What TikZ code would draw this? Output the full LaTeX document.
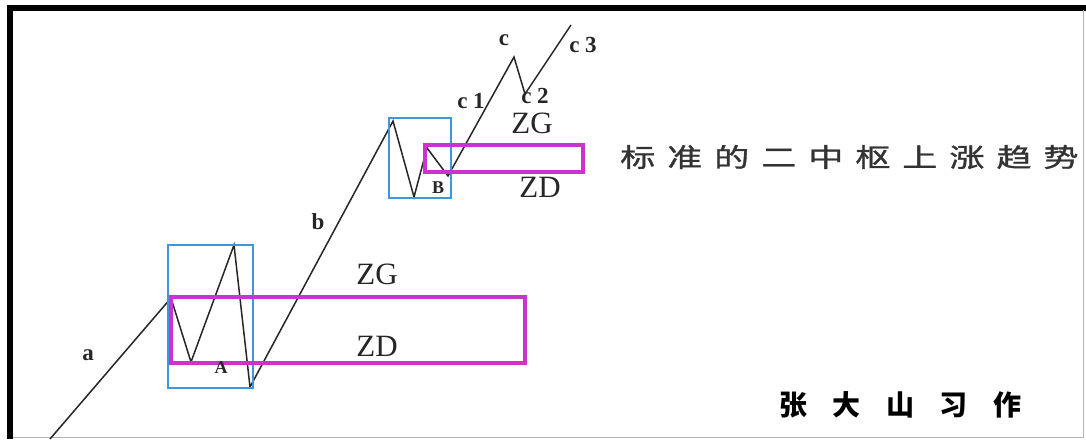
\documentclass[tikz,border=0pt]{standalone}
\usepackage{fontspec}
\usepackage{graphicx}
\setmainfont{Liberation Serif}
\newfontfamily\cjk{Noto Sans CJK SC}
\usetikzlibrary{positioning}
\definecolor{hubmag}{RGB}{204,51,204}
\definecolor{oscblue}{RGB}{60,150,225}

\begin{document}
\begin{tikzpicture}[x=1pt, y=-1pt,
  wave/.style={draw=black!85, line width=1.5pt, line join=miter},
  osc/.style={draw=oscblue, line width=1.3pt},
  hub/.style={draw=hubmag, line width=4.5pt},
  lbl/.style={inner sep=0pt, text=black!85, font=\bfseries\fontsize{23}{23}\selectfont},
  zlbl/.style={inner sep=0pt, text=black!85, font=\fontsize{31}{31}\selectfont},
  ptlbl/.style={inner sep=0pt, text=black!85, font=\bfseries\fontsize{18}{18}\selectfont}]
  \useasboundingbox (0,0) rectangle (1086,439);
  \fill[white] (0,0) rectangle (1086,439);
  % frame
  \draw[line width=6pt] (10,439) -- (10,7.5) -- (1086,7.5);
  \draw[black!30, line width=1pt] (13,437.5) -- (1083,437.5) -- (1083,10);

  % price path
  \coordinate (p0) at (50,439);
  \coordinate (p1) at (171,298);
  \coordinate (p2) at (191,362);
  \coordinate (p3) at (234,245);
  \coordinate (p4) at (250,387);
  \coordinate (p5) at (393,121);
  \coordinate (p6) at (414,197);
  \coordinate (p7) at (427,148);
  \coordinate (p8) at (448,176);
  \coordinate (p9) at (514,57);
  \coordinate (p10) at (525,94);
  \coordinate (p11) at (571,25);
  \draw[wave] (p0) \foreach \i in {1,...,11} { -- (p\i) };

  % boxes
  \draw[osc] (168,245) rectangle (253,388);
  \draw[osc] (389,118) rectangle (451,198);
  \draw[hub] (171,297) rectangle (525,363);
  \draw[hub] (425,145) rectangle (583,172);

  % labels
  \node[lbl] (la) at (88,355) {a};
  \node[ptlbl] (lA) at (221,368) {A};
  \node[lbl] (lb) at (318,222) {b};
  \node[zlbl] (zg1) at (377,274) {ZG};
  \node[zlbl] (zd1) at (377,346) {ZD};
  \node[ptlbl] (lB) at (438,188) {B};
  \node[zlbl] (zg2) at (532,123) {ZG};
  \node[zlbl] (zd2) at (540,187) {ZD};
  \node[lbl] (lc1) at (471,101) {c 1};
  \node[lbl] (lc) at (504,40) {c};
  \node[lbl] (lc2) at (535,96) {c 2};
  \node[lbl] (lc3) at (583,45) {c 3};

  \node[anchor=west, inner sep=0pt, text=black!80] (title) at (620,157)
    {\scalebox{1.35}[1]{\cjk\fontsize{26}{26}\selectfont\addfontfeatures{LetterSpace=34,FakeBold=1}标准的二中枢上涨趋势}};
  \node[anchor=west, inner sep=0pt] (sign) at (779,405)
    {\cjk\bfseries\fontsize{28}{28}\selectfont\addfontfeatures{LetterSpace=91}张大山习作};
\end{tikzpicture}
\end{document}
